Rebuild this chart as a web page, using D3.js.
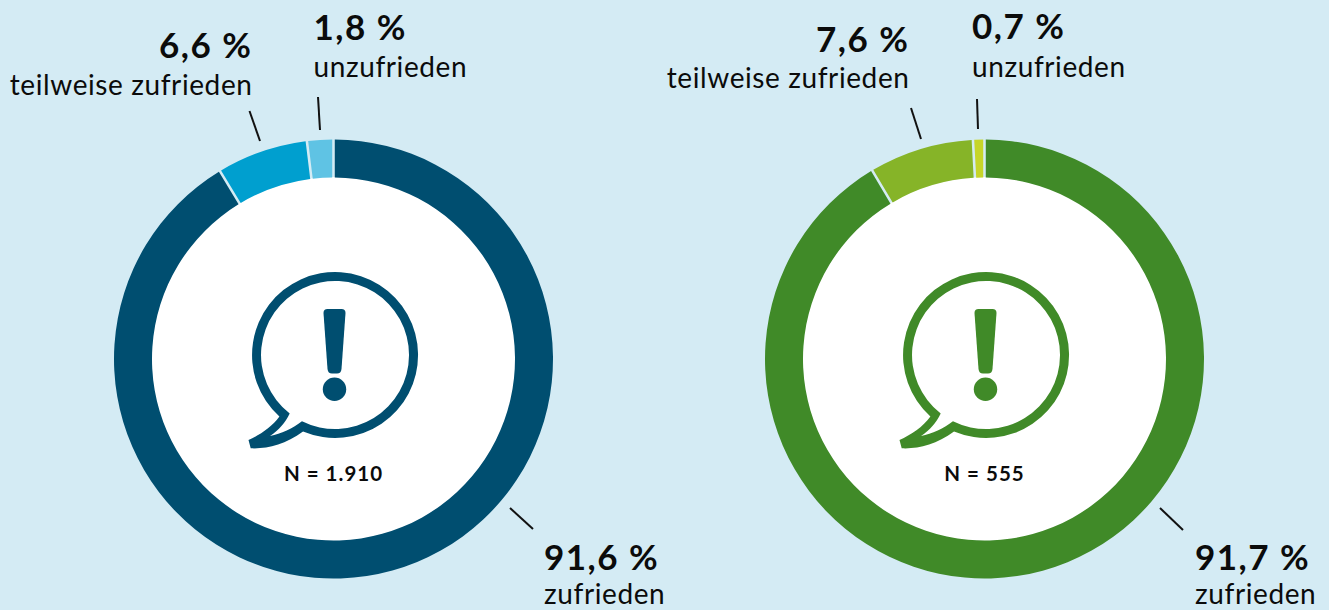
<!DOCTYPE html>
<html lang="de">
<head>
<meta charset="utf-8">
<title>Zufriedenheit</title>
<script src="https://cdn.jsdelivr.net/npm/d3@7"></script>
<style>
  html, body { margin: 0; padding: 0; background: #d4ebf4; overflow: hidden; }
  text { font-family: Lato, "Noto Sans", sans-serif; fill: #0b0b0b; }
  .val { font-size: 35px; font-weight: 700; letter-spacing: 1.5px; }
  .cat { font-size: 28px; letter-spacing: 0.6px; }
  .n { font-size: 20.5px; font-weight: 700; letter-spacing: 1px; }
</style>
</head>
<body>
<div id="chart"></div>
<script>
"use strict";

// === DATA ===
const categories = ["zufrieden", "teilweise zufrieden", "unzufrieden"];
const valuesLeft = [91.6, 6.6, 1.8];
const valuesRight = [91.7, 7.6, 0.7];
const colorsLeft = ["#004e70", "#009fcf", "#5fc3e4"];
const colorsRight = ["#408a28", "#86b428", "#c6d52a"];
const labelsLeft = ["91,6 %", "6,6 %", "1,8 %"];
const labelsRight = ["91,7 %", "7,6 %", "0,7 %"];
const totalLeft = "N = 1.910";
const totalRight = "N = 555";

// === SVG SETUP ===
const width = 1329, height = 610;
const outerR = 219.5, innerR = 181.5;

const svg = d3.select("#chart").append("svg")
  .attr("width", width)
  .attr("height", height)
  .style("display", "block");

// the gap between slices lets the page colour through
const pie = d3.pie().sort(null).padAngle(0.009);
const arc = d3.arc().innerRadius(innerR).outerRadius(outerR);

// speech bubble outline, relative to the bubble centre
const bubblePath =
  "M-55.6,61.6 A83,83 0 1 1 -31.96,76.6 C-50,90 -68,94 -84.3,93.3 L-86.5,85 C-75,80 -63,72 -55.6,61.6 Z " +
  "M-45.3,58.5 A74,74 0 1 1 -33.05,66.2 C-42,73 -54,79 -65,81 C-56,75 -50,68 -45.3,58.5 Z";
const markPath =
  "M-11.5,-42 Q-11.5,-46 -7.5,-46 L6.5,-46 Q10.5,-46 10.5,-42 L6.5,14 Q6,18.5 2,18.5 L-3,18.5 Q-7,18.5 -7.5,14 Z";

// === ONE DONUT ===
function drawDonut(cx, values, colors, labels, total, place) {
  const g = svg.append("g").attr("transform", `translate(${cx},359)`);

  g.append("circle").attr("r", innerR + 0.5).attr("fill", "#fff");

  g.selectAll("path.slice")
    .data(pie(values))
    .enter()
    .append("path")
    .attr("class", "slice")
    .attr("d", arc)
    .attr("fill", (d, i) => colors[i]);

  // icon
  const icon = g.append("g").attr("transform", "translate(1.5,-4)");
  icon.append("path").attr("d", bubblePath).attr("fill", colors[0]).attr("fill-rule", "evenodd");
  icon.append("path").attr("d", markPath).attr("fill", colors[0]);
  icon.append("circle").attr("cx", -0.5).attr("cy", 34.3).attr("r", 11.7).attr("fill", colors[0]);

  g.append("text")
    .attr("class", "n")
    .attr("x", 0)
    .attr("y", 122)
    .attr("text-anchor", "middle")
    .text(total);

  // labels and leader lines
  place.forEach((p, i) => {
    g.append("line")
      .attr("x1", p.line[0]).attr("y1", p.line[1])
      .attr("x2", p.line[2]).attr("y2", p.line[3])
      .attr("stroke", "#111")
      .attr("stroke-width", 2);
    g.append("text").attr("class", "val")
      .attr("x", p.x).attr("y", p.y1)
      .attr("text-anchor", p.anchor)
      .text(labels[i]);
    g.append("text").attr("class", "cat")
      .attr("x", p.x).attr("y", p.y2)
      .attr("text-anchor", p.anchor)
      .text(categories[i]);
  });
}

drawDonut(333.5, valuesLeft, colorsLeft, labelsLeft, totalLeft, [
  { x: 210.5, y1: 211, y2: 245, anchor: "start", line: [176.5, 149, 199.5, 170] },
  { x: -81, y1: -301, y2: -264, anchor: "end", line: [-84, -248, -73.5, -218] },
  { x: -20, y1: -319, y2: -282, anchor: "start", line: [-15.5, -262, -13.5, -229] }
]);

drawDonut(984.5, valuesRight, colorsRight, labelsRight, totalRight, [
  { x: 210.5, y1: 211, y2: 245, anchor: "start", line: [175.5, 149, 198.5, 171] },
  { x: -75, y1: -307, y2: -271, anchor: "end", line: [-73.5, -251, -63.5, -220] },
  { x: -12.5, y1: -320, y2: -282, anchor: "start", line: [-7.5, -260, -6.5, -230] }
]);
</script>
</body>
</html>
